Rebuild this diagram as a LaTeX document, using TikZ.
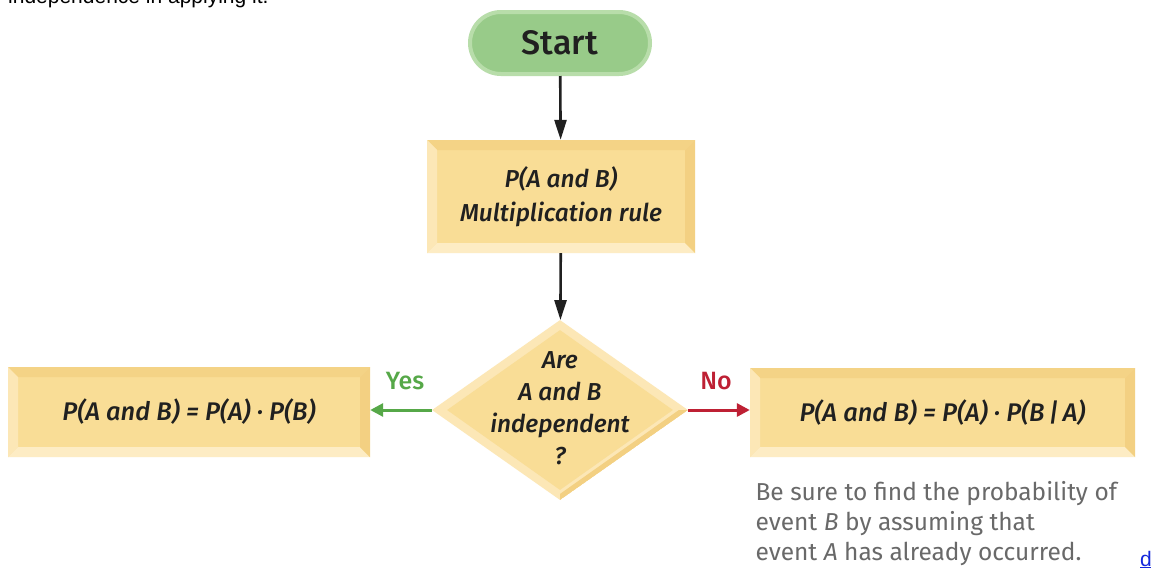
\documentclass[tikz,border=0pt]{standalone}
\usepackage{fontspec}
\setmainfont{Fira Sans}
\newfontfamily\medfont{Fira Sans Medium}
\newfontfamily\webfont{Liberation Sans}
\usetikzlibrary{arrows.meta,shapes.geometric,calc}

\definecolor{boxfill}{RGB}{249,221,150}
\definecolor{bevtop}{RGB}{244,211,134}
\definecolor{bevleft}{RGB}{252,231,182}
\definecolor{bevbottom}{RGB}{253,236,196}
\definecolor{bevright}{RGB}{243,208,130}
\definecolor{startfill}{RGB}{152,203,137}
\definecolor{startrim}{RGB}{184,221,170}
\definecolor{yesgreen}{RGB}{86,168,72}
\definecolor{nored}{RGB}{190,32,52}
\definecolor{inkdark}{RGB}{32,32,32}
\definecolor{notegray}{RGB}{105,105,105}
\definecolor{linkblue}{RGB}{20,40,220}

\tikzset{
  bevelbox/.style={rectangle, inner sep=0pt, fill=boxfill, text=inkdark,
    font=\medfont\fontsize{25.5}{34}\selectfont\itshape, align=center,
    path picture={
      \fill[bevtop] (path picture bounding box.north west) -- (path picture bounding box.north east)
        -- ([shift={(-10pt,-10pt)}]path picture bounding box.north east)
        -- ([shift={(10pt,-10pt)}]path picture bounding box.north west) -- cycle;
      \fill[bevleft] (path picture bounding box.north west) -- (path picture bounding box.south west)
        -- ([shift={(10pt,10pt)}]path picture bounding box.south west)
        -- ([shift={(10pt,-10pt)}]path picture bounding box.north west) -- cycle;
      \fill[bevbottom] (path picture bounding box.south west) -- (path picture bounding box.south east)
        -- ([shift={(-10pt,10pt)}]path picture bounding box.south east)
        -- ([shift={(10pt,10pt)}]path picture bounding box.south west) -- cycle;
      \fill[bevright] (path picture bounding box.north east) -- (path picture bounding box.south east)
        -- ([shift={(-10pt,10pt)}]path picture bounding box.south east)
        -- ([shift={(-10pt,-10pt)}]path picture bounding box.north east) -- cycle;
    }},
  decision/.style={diamond, inner sep=0pt, minimum width=256pt, minimum height=180pt,
    fill=bevleft,
    path picture={
      \fill[bevright] (path picture bounding box.east) -- (path picture bounding box.south)
        -- ([yshift=6pt]path picture bounding box.south) -- ([xshift=-9pt]path picture bounding box.east) -- cycle;
      \fill[boxfill] ([yshift=-10pt]path picture bounding box.north)
        -- ([xshift=-15pt]path picture bounding box.east)
        -- ([yshift=10pt]path picture bounding box.south)
        -- ([xshift=15pt]path picture bounding box.west) -- cycle;
    }},
  terminal/.style={rectangle, rounded corners=31pt, minimum width=180pt, minimum height=62pt,
    fill=startfill, draw=startrim, line width=4pt, text=inkdark,
    font=\medfont\fontsize{34}{36}\selectfont},
  flow/.style={line width=2.6pt, draw=inkdark, -{Triangle[length=20pt,width=12pt]}},
  branch/.style={line width=3pt, -{Triangle[length=13pt,width=13pt]}},
  branchlabel/.style={font=\medfont\fontsize{25}{26}\selectfont},
  note/.style={anchor=base west, text=notegray, font=\fontsize{24.5}{28}\selectfont},
}

\begin{document}
\begin{tikzpicture}[x=1pt,y=-1pt]
  \useasboundingbox (0,0) rectangle (1151,571);
  \clip (0,0) rectangle (1151,571);
  \fill[white] (0,0) rectangle (1151,571);

  % text running in from above
  \node[anchor=base west, inner sep=0pt, font=\webfont\fontsize{21}{24}\selectfont, text=black]
    (runin) at (8,3) {independence in applying it.};

  % flowchart
  \node[terminal] (start) at (560,43) {Start};
  \node[bevelbox, font=\medfont\fontsize{24.5}{34}\selectfont\itshape,
        minimum width=268pt, minimum height=113pt] (rule) at (561,196.5)
    {P(A and B)\\Multiplication rule};
  \node[decision] (dec) at (560,410) {};
  \node[align=center, text=inkdark, font=\medfont\fontsize{24.5}{32}\selectfont\itshape] (dectext) at (560,408)
    {Are\\A and B\\independent\\?};
  \node[bevelbox, minimum width=362pt, minimum height=90pt] (indep) at (189,412)
    {P(A and B) = P(A) · P(B)};
  \node[bevelbox, minimum width=385pt, minimum height=89pt] (dep) at (942.5,412.5)
    {P(A and B) = P(A) · P(B\,|\,A)};

  \draw[flow] (start) -- (rule);
  \draw[flow] (rule) -- (dec);
  \draw[branch, draw=yesgreen, fill=yesgreen] (dec.west) -- (indep.east |- dec.west);
  \draw[branch, draw=nored, fill=nored] (dec.east) -- (dep.west |- dec.east);
  \node[branchlabel, text=yesgreen] (yes) at (405,381) {Yes};
  \node[branchlabel, text=nored] (no) at (716,381) {No};

  % remark under the dependent case
  \node[note] (n1) at (752,500) {Be sure to find the probability of};
  \node[note] (n2) at (752,530) {event \textit{B} by assuming that};
  \node[note] (n3) at (752,560) {event \textit{A} has already occurred.};

  % link text at the lower edge
  \node[anchor=base west, inner sep=0pt, text=linkblue, font=\webfont\fontsize{21}{22}\selectfont]
    (link) at (1140,566) {\underline{d}};
\end{tikzpicture}
\end{document}
